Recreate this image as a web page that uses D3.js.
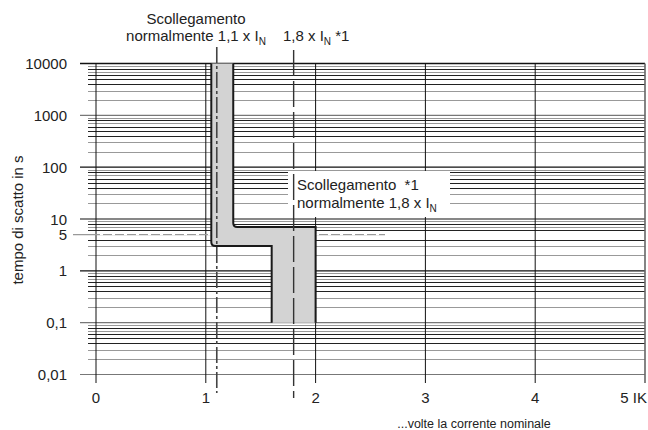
<!DOCTYPE html>
<html>
<head>
<meta charset="utf-8">
<script src="https://cdn.jsdelivr.net/npm/d3@7"></script>
<style>
  html, body { margin: 0; padding: 0; background: #fff; }
  svg text { font-family: "Liberation Sans", Arial, sans-serif; fill: #222; }
</style>
</head>
<body>
<div id="chart"></div>
<script>
// ── Data ────────────────────────────────────────────────────
const xTicks = [0, 1, 2, 3, 4, 5];
const xTickLabels = ['0', '1', '2', '3', '4', '5 IK'];
const yDecades = [0.01, 0.1, 1, 10, 100, 1000, 10000];
const yTickValues = [10000, 1000, 100, 10, 5, 1, 0.1, 0.01];
const minorSteps = [2, 3, 4, 5, 6, 7, 8, 9];

// trip band: lower/left and upper/right boundaries (multiple of In, seconds)
const bandLeft = [[1.05, 10000], [1.05, 3], [1.6, 3], [1.6, 0.1]];
const bandRight = [[1.25, 10000], [1.25, 7], [2.0, 7], [2.0, 0.1]];
const markLow = 1.1;   // normally 1,1 x In
const markHigh = 1.8;  // normally 1,8 x In
const markTime = 5;    // 5 s reference

// ── Layout ──────────────────────────────────────────────────
const W = 648, H = 430;
const x = d3.scaleLinear().domain([0, 5]).range([96, 645]);
const y = d3.scaleLog().domain([0.01, 10000]).range([374.5, 63.5]);
const fmt = d3.formatLocale({ decimal: ',', thousands: '', grouping: [3], currency: ['', ''] }).format('~g');

const svg = d3.select('#chart').append('svg')
  .attr('width', W).attr('height', H);

// ── Horizontal grid ─────────────────────────────────────────
const gGrid = svg.append('g');
const darkMinor = new Set([4, 5, 6, 8]);
yDecades.slice(0, -1).forEach(d => {
  minorSteps.forEach(m => {
    const v = d * m;
    if (v === markTime) return; // drawn as the dashed reference line
    gGrid.append('line')
      .attr('x1', 88).attr('x2', 645)
      .attr('y1', Math.round(y(v)) + 0.5).attr('y2', Math.round(y(v)) + 0.5)
      .attr('stroke', darkMinor.has(m) ? '#222' : '#999')
      .attr('stroke-width', 1);
  });
});
yDecades.forEach(d => {
  gGrid.append('line')
    .attr('x1', 80).attr('x2', 645)
    .attr('y1', y(d)).attr('y2', y(d))
    .attr('stroke', d <= 0.1 || d === 1000 ? '#777' : '#111')
    .attr('stroke-width', d === 10000 ? 1.6 : 1.2);
});

// ── Vertical grid ───────────────────────────────────────────
xTicks.forEach(t => {
  gGrid.append('line')
    .attr('x1', x(t)).attr('x2', x(t))
    .attr('y1', y(10000)).attr('y2', 383)
    .attr('stroke', t === 5 ? '#666' : '#111')
    .attr('stroke-width', t === 5 ? 1.6 : 1);
});

// ── 5 s reference line ──────────────────────────────────────
svg.append('line')
  .attr('x1', 73).attr('x2', 385)
  .attr('y1', y(markTime)).attr('y2', y(markTime))
  .attr('stroke', '#999').attr('stroke-width', 1.3);
svg.append('line')
  .attr('x1', 100).attr('x2', 385)
  .attr('y1', y(markTime)).attr('y2', y(markTime))
  .attr('stroke', '#fff').attr('stroke-width', 1.3)
  .attr('stroke-dasharray', '3,9');

// ── Trip band ───────────────────────────────────────────────
function roundedPath(pts, r, start) {
  let p = (start ? 'M' : 'L') + pts[0][0] + ',' + pts[0][1];
  for (let i = 1; i < pts.length - 1; i++) {
    const [x0, y0] = pts[i - 1], [x1, y1] = pts[i], [x2, y2] = pts[i + 1];
    const rr = r[i] || 0;
    const d1 = Math.hypot(x1 - x0, y1 - y0), d2 = Math.hypot(x2 - x1, y2 - y1);
    const ax = x1 - (x1 - x0) / d1 * rr, ay = y1 - (y1 - y0) / d1 * rr;
    const bx = x1 + (x2 - x1) / d2 * rr, by = y1 + (y2 - y1) / d2 * rr;
    p += 'L' + ax + ',' + ay + 'Q' + x1 + ',' + y1 + ' ' + bx + ',' + by;
  }
  const last = pts[pts.length - 1];
  return p + 'L' + last[0] + ',' + last[1];
}
const leftPx = bandLeft.map(([a, b]) => [x(a), y(b)]);
const rightPx = bandRight.map(([a, b]) => [x(a), y(b)]);
const leftD = roundedPath(leftPx, [0, 4, 0], true);
const rightD = roundedPath(rightPx, [0, 4, 0], true);
const fillD = leftD + roundedPath(rightPx.slice().reverse(), [0, 0, 4], false) + 'Z';

svg.append('path').attr('d', fillD).attr('fill', '#d3d3d3').attr('stroke', 'none');
[leftD, rightD].forEach(d => {
  svg.append('path').attr('d', d)
    .attr('fill', 'none').attr('stroke', '#1a1a1a')
    .attr('stroke-width', 2);
});

// ── Annotation box ──────────────────────────────────────────
svg.append('rect')
  .attr('x', 288).attr('y', 171).attr('width', 162).attr('height', 46)
  .attr('fill', '#fff');

// ── Reference lines 1,1 and 1,8 x In ────────────────────────
svg.append('line')
  .attr('x1', x(markLow)).attr('x2', x(markLow))
  .attr('y1', 47).attr('y2', 393)
  .attr('stroke', '#444').attr('stroke-width', 1.6)
  .attr('stroke-dasharray', '16,3,3,3');
svg.append('line')
  .attr('x1', x(markHigh)).attr('x2', x(markHigh))
  .attr('y1', 50).attr('y2', 398)
  .attr('stroke', '#333').attr('stroke-width', 1.4)
  .attr('stroke-dasharray', '26,5');

// ── Tick labels ─────────────────────────────────────────────
yTickValues.forEach(v => {
  svg.append('text')
    .attr('x', 67).attr('y', y(v) + 5.5)
    .attr('text-anchor', 'end')
    .attr('font-size', 15)
    .text(fmt(v));
});
xTicks.forEach((t, i) => {
  svg.append('text')
    .attr('x', i === 5 ? 647 : x(t))
    .attr('y', 403)
    .attr('text-anchor', i === 5 ? 'end' : 'middle')
    .attr('font-size', 15)
    .text(xTickLabels[i]);
});

// ── Axis titles ─────────────────────────────────────────────
svg.append('text')
  .attr('transform', 'translate(23,220) rotate(-90)')
  .attr('text-anchor', 'middle')
  .attr('font-size', 15)
  .text('tempo di scatto in s');
svg.append('text')
  .attr('x', 474).attr('y', 428)
  .attr('text-anchor', 'middle')
  .attr('font-size', 12.5)
  .text('...volte la corrente nominale');

// ── Text with In subscript ──────────────────────────────────
function labelIn(g, xPos, yPos, anchor, before, after) {
  const t = g.append('text')
    .attr('x', xPos).attr('y', yPos)
    .attr('text-anchor', anchor)
    .attr('font-size', 15);
  t.append('tspan').text(before + 'I');
  t.append('tspan').attr('font-size', 10).attr('dy', 4).text('N');
  if (after) t.append('tspan').attr('dy', -4).text(after);
  return t;
}

svg.append('text')
  .attr('x', 196).attr('y', 24)
  .attr('text-anchor', 'middle')
  .attr('font-size', 15)
  .text('Scollegamento');
labelIn(svg, 196, 41, 'middle', 'normalmente 1,1 x ', '');
labelIn(svg, 283, 41, 'start', '1,8 x ', ' *1');

svg.append('text')
  .attr('x', 297).attr('y', 190)
  .attr('font-size', 15)
  .attr('xml:space', 'preserve')
  .text('Scollegamento  *1');
labelIn(svg, 297, 208, 'start', 'normalmente 1,8 x ', '');
</script>
</body>
</html>
